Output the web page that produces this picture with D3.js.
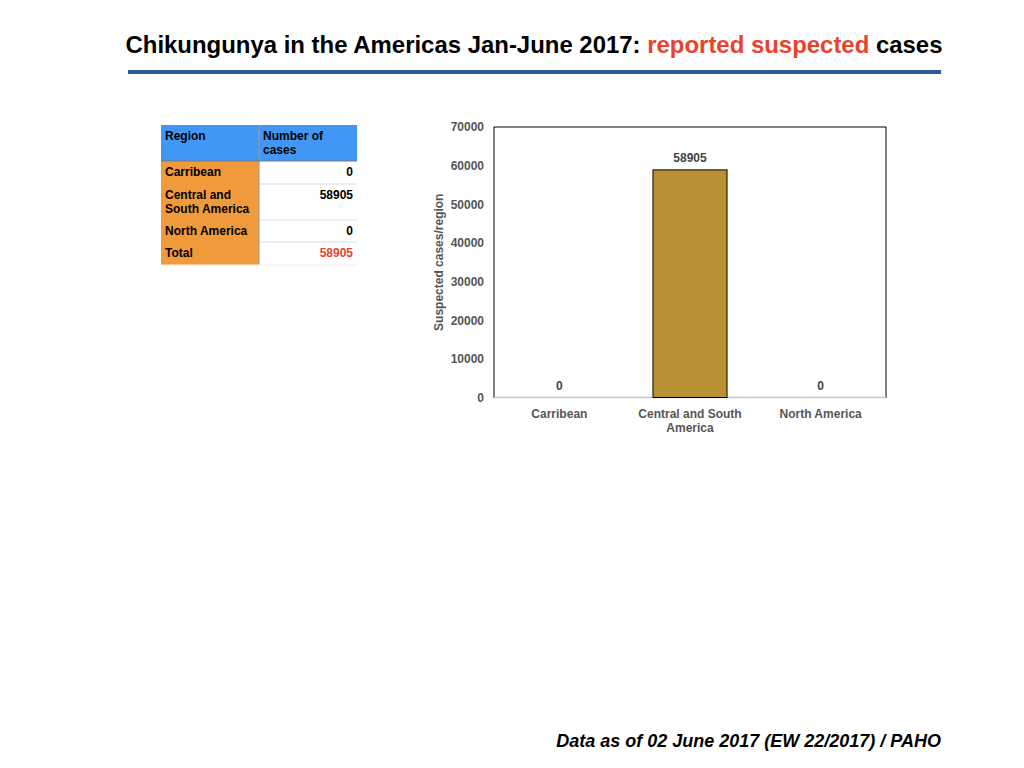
<!DOCTYPE html>
<html>
<head>
<meta charset="utf-8">
<script src="https://cdn.jsdelivr.net/npm/d3@7"></script>
<style>
  body { margin: 0; background: #fff; }
  svg text { font-family: "Liberation Sans", Arial, sans-serif; }
</style>
</head>
<body>
<div id="chart-area"></div>
<script>
// data
let regions = ["Carribean", "Central and South America", "North America"]
let regionLabels = [["Carribean"], ["Central and South", "America"], ["North America"]]
let tableRows = [["Carribean"], ["Central and", "South America"], ["North America"]]
let cases = [0, 58905, 0]
let total = 58905
let yTicks = [0, 10000, 20000, 30000, 40000, 50000, 60000, 70000]

let svg = d3.select("#chart-area").append("svg")
  .attr("width", 1024)
  .attr("height", 768)

// title
let title = svg.append("text")
  .attr("x", 534)
  .attr("y", 53)
  .attr("text-anchor", "middle")
  .attr("font-size", 23.8)
  .attr("font-weight", "bold")
  .attr("textLength", 817)
  .attr("lengthAdjust", "spacingAndGlyphs")
title.append("tspan").attr("fill", "#000").text("Chikungunya in the Americas Jan-June 2017: ")
title.append("tspan").attr("fill", "#e8432d").text("reported suspected")
title.append("tspan").attr("fill", "#000").text(" cases")

svg.append("rect")
  .attr("x", 128).attr("y", 70)
  .attr("width", 813).attr("height", 4)
  .attr("fill", "#2c5b98")

// footer
svg.append("text")
  .attr("x", 941)
  .attr("y", 747)
  .attr("text-anchor", "end")
  .attr("font-size", 18)
  .attr("font-weight", "bold")
  .attr("font-style", "italic")
  .text("Data as of 02 June 2017 (EW 22/2017) / PAHO")

// table
let table = svg.append("g")
let tx0 = 161, tx1 = 259, tx2 = 357
let rowEdges = [125, 161, 184, 220, 242, 265]

table.append("rect")
  .attr("x", tx0).attr("y", rowEdges[0])
  .attr("width", tx2 - tx0).attr("height", rowEdges[1] - rowEdges[0])
  .attr("fill", "#4297f5")

let bodyRows = tableRows.map((r, i) => ({ label: r, value: cases[i], red: false }))
bodyRows.push({ label: ["Total"], value: total, red: true })

bodyRows.forEach((row, i) => {
  let top = rowEdges[i + 1], bottom = rowEdges[i + 2]
  table.append("rect")
    .attr("x", tx0).attr("y", top)
    .attr("width", tx1 - tx0).attr("height", bottom - top)
    .attr("fill", "#f09a3b")
  table.append("rect")
    .attr("x", tx1).attr("y", top)
    .attr("width", tx2 - tx1).attr("height", bottom - top)
    .attr("fill", "#fff")
  row.label.forEach((line, j) => {
    table.append("text")
      .attr("x", tx0 + 4).attr("y", top + 15 + j * 14)
      .attr("font-size", 12).attr("font-weight", "bold")
      .text(line)
  })
  table.append("text")
    .attr("x", tx2 - 4).attr("y", top + 15)
    .attr("text-anchor", "end")
    .attr("font-size", 12).attr("font-weight", "bold")
    .attr("fill", row.red ? "#e8432d" : "#000")
    .text(row.value)
  if (i > 0) {
    table.append("line")
      .attr("x1", tx1).attr("x2", tx2).attr("y1", top).attr("y2", top)
      .attr("stroke", "#ddd").attr("stroke-width", 1)
  }
})
table.append("line")
  .attr("x1", tx1).attr("x2", tx1).attr("y1", rowEdges[0]).attr("y2", rowEdges[5])
  .attr("stroke", "#9a9a9a").attr("stroke-width", 1)
table.append("line")
  .attr("x1", tx0).attr("x2", tx2).attr("y1", rowEdges[1]).attr("y2", rowEdges[1])
  .attr("stroke", "#777").attr("stroke-width", 1)
table.append("line")
  .attr("x1", tx0).attr("x2", tx2).attr("y1", rowEdges[5]).attr("y2", rowEdges[5])
  .attr("stroke", "#eee").attr("stroke-width", 1)

table.append("text")
  .attr("x", tx0 + 4).attr("y", rowEdges[0] + 15)
  .attr("font-size", 12).attr("font-weight", "bold")
  .text("Region")
;["Number of", "cases"].forEach((line, j) => {
  table.append("text")
    .attr("x", tx1 + 4).attr("y", rowEdges[0] + 15 + j * 14)
    .attr("font-size", 12).attr("font-weight", "bold")
    .text(line)
})

// bar chart
let plot = { left: 494, top: 127, right: 886, bottom: 397.5 }
let plotWidth = plot.right - plot.left
let plotHeight = plot.bottom - plot.top

let graphGroup = svg.append("g")
  .attr("transform", "translate(" + plot.left + ", " + plot.top + ")")

let y = d3.scaleLinear()
  .domain([0, 70000])
  .range([plotHeight, 0])

let x = d3.scaleBand()
  .domain(regions)
  .range([0, plotWidth])
  .paddingInner(0.433)
  .paddingOuter(0.217)

graphGroup.append("rect")
  .attr("width", plotWidth).attr("height", plotHeight)
  .attr("fill", "none").attr("stroke", "#000").attr("stroke-width", 1)

graphGroup.append("line")
  .attr("x1", 0).attr("x2", plotWidth)
  .attr("y1", plotHeight).attr("y2", plotHeight)
  .attr("stroke", "#c8c8c8").attr("stroke-width", 1.5)

let yAxis = d3.axisLeft(y).tickValues(yTicks).tickFormat(d3.format("d")).tickSize(0).tickPadding(10)
let yG = graphGroup.append("g").call(yAxis)
yG.select(".domain").remove()
yG.selectAll("text")
  .attr("font-family", "Liberation Sans, Arial, sans-serif")
  .attr("font-size", 12).attr("font-weight", "bold").attr("fill", "#555")

graphGroup.selectAll("rect.bar")
  .data(cases)
  .enter()
  .append("rect")
    .attr("class", "bar")
    .attr("x", (d, i) => x(regions[i]))
    .attr("y", d => y(d))
    .attr("width", x.bandwidth())
    .attr("height", d => plotHeight - y(d))
    .attr("fill", "#b89232")
    .attr("stroke", d => d > 0 ? "#000" : "none")
    .attr("stroke-width", 1)

graphGroup.selectAll("text.val")
  .data(cases)
  .enter()
  .append("text")
    .attr("class", "val")
    .attr("x", (d, i) => x(regions[i]) + x.bandwidth() / 2)
    .attr("y", d => y(d) - 8)
    .attr("text-anchor", "middle")
    .attr("font-size", 12).attr("font-weight", "bold").attr("fill", "#444")
    .text(d => d)

regionLabels.forEach((lines, i) => {
  lines.forEach((line, j) => {
    graphGroup.append("text")
      .attr("x", x(regions[i]) + x.bandwidth() / 2)
      .attr("y", plotHeight + 20 + j * 14)
      .attr("text-anchor", "middle")
      .attr("font-size", 12).attr("font-weight", "bold").attr("fill", "#555")
      .text(line)
  })
})

svg.append("text")
  .attr("transform", "translate(443, " + (plot.top + plotHeight / 2) + ") rotate(-90)")
  .attr("text-anchor", "middle")
  .attr("font-size", 12).attr("font-weight", "bold").attr("fill", "#555")
  .text("Suspected cases/region")
</script>
</body>
</html>
